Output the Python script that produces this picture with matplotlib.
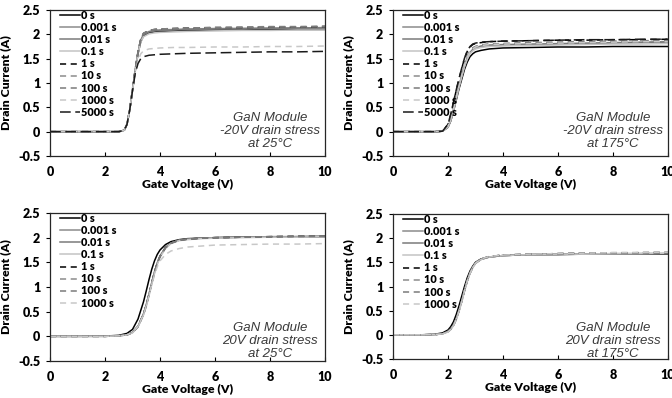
import matplotlib
matplotlib.use('Agg')
import matplotlib.pyplot as plt

# ---- data (gate voltage in V, drain current in A) ----
labels9 = ['0 s', '0.001 s', '0.01 s', '0.1 s', '1 s', '10 s', '100 s', '1000 s', '5000 s']
labels8 = labels9[:8]

# top left: -20V drain stress at 25C
tl_v = [0, 1, 2, 2.5, 2.7, 2.8, 2.9, 3.0, 3.1, 3.2, 3.3, 3.4, 3.6, 3.8, 4.0, 4.5, 5, 6, 7, 8, 9, 10]
tl_0s = [0, 0, 0, 0, 0.03, 0.15, 0.45, 0.85, 1.25, 1.6, 1.85, 1.97, 2.03, 2.05, 2.06, 2.07, 2.08, 2.09, 2.09, 2.1, 2.1, 2.1]
tl_1ms = [0, 0, 0, 0, 0.03, 0.15, 0.45, 0.86, 1.27, 1.62, 1.88, 2.0, 2.06, 2.08, 2.09, 2.1, 2.11, 2.12, 2.12, 2.13, 2.13, 2.14]
tl_10ms = [0, 0, 0, 0, 0.03, 0.15, 0.45, 0.86, 1.27, 1.62, 1.87, 1.99, 2.05, 2.07, 2.08, 2.09, 2.1, 2.11, 2.12, 2.12, 2.13, 2.13]
tl_100ms = [0, 0, 0, 0, 0.03, 0.15, 0.45, 0.85, 1.25, 1.6, 1.84, 1.95, 2.01, 2.03, 2.04, 2.05, 2.06, 2.07, 2.08, 2.08, 2.09, 2.09]
tl_1s = [0, 0, 0, 0, 0.03, 0.15, 0.46, 0.87, 1.28, 1.64, 1.9, 2.02, 2.08, 2.1, 2.11, 2.12, 2.13, 2.14, 2.14, 2.15, 2.15, 2.16]
tl_10s = [0, 0, 0, 0, 0.03, 0.15, 0.46, 0.87, 1.28, 1.64, 1.9, 2.02, 2.08, 2.1, 2.11, 2.12, 2.13, 2.14, 2.15, 2.16, 2.16, 2.17]
tl_100s = [0, 0, 0, 0, 0.03, 0.15, 0.46, 0.87, 1.28, 1.63, 1.89, 2.01, 2.07, 2.09, 2.1, 2.11, 2.12, 2.13, 2.14, 2.15, 2.15, 2.16]
tl_1000s = [0, 0, 0, 0, 0.03, 0.15, 0.45, 0.85, 1.22, 1.45, 1.6, 1.66, 1.7, 1.71, 1.72, 1.73, 1.73, 1.74, 1.74, 1.75, 1.75, 1.76]
tl_5000s = [0, 0, 0, 0, 0.03, 0.15, 0.45, 0.84, 1.2, 1.4, 1.5, 1.54, 1.57, 1.58, 1.59, 1.6, 1.61, 1.62, 1.63, 1.64, 1.64, 1.65]

# top right: -20V drain stress at 175C
tr_v = [0, 1, 1.5, 1.8, 2.0, 2.1, 2.2, 2.3, 2.4, 2.5, 2.6, 2.7, 2.8, 2.9, 3.0, 3.2, 3.5, 4, 5, 6, 7, 8, 9, 10]
tr_0s = [0, 0, 0, 0.01, 0.09, 0.22, 0.42, 0.65, 0.88, 1.08, 1.28, 1.43, 1.54, 1.6, 1.64, 1.67, 1.7, 1.72, 1.73, 1.74, 1.74, 1.75, 1.75, 1.75]
tr_1ms = [0, 0, 0, 0.01, 0.1, 0.24, 0.45, 0.69, 0.93, 1.15, 1.36, 1.52, 1.63, 1.69, 1.73, 1.76, 1.78, 1.79, 1.8, 1.81, 1.82, 1.83, 1.84, 1.85]
tr_10ms = [0, 0, 0, 0.01, 0.1, 0.24, 0.45, 0.69, 0.93, 1.15, 1.35, 1.51, 1.62, 1.68, 1.72, 1.75, 1.77, 1.78, 1.79, 1.8, 1.81, 1.82, 1.83, 1.84]
tr_100ms = [0, 0, 0, 0.01, 0.1, 0.23, 0.44, 0.68, 0.92, 1.13, 1.33, 1.49, 1.6, 1.66, 1.7, 1.73, 1.75, 1.76, 1.77, 1.78, 1.79, 1.8, 1.8, 1.81]
tr_1s = [0, 0, 0, 0.01, 0.15, 0.35, 0.6, 0.85, 1.08, 1.3, 1.5, 1.65, 1.74, 1.79, 1.81, 1.83, 1.85, 1.86, 1.87, 1.88, 1.88, 1.89, 1.89, 1.9]
tr_10s = [0, 0, 0, 0.01, 0.11, 0.26, 0.48, 0.72, 0.96, 1.18, 1.39, 1.55, 1.66, 1.72, 1.75, 1.78, 1.8, 1.81, 1.82, 1.83, 1.84, 1.85, 1.86, 1.86]
tr_100s = [0, 0, 0, 0.01, 0.11, 0.26, 0.48, 0.72, 0.96, 1.18, 1.39, 1.55, 1.66, 1.72, 1.75, 1.78, 1.8, 1.81, 1.83, 1.84, 1.85, 1.86, 1.87, 1.87]
tr_1000s = [0, 0, 0, 0.01, 0.1, 0.25, 0.46, 0.7, 0.94, 1.16, 1.37, 1.53, 1.64, 1.7, 1.74, 1.77, 1.79, 1.8, 1.81, 1.82, 1.83, 1.84, 1.85, 1.85]
tr_5000s = [0, 0, 0, 0.01, 0.15, 0.36, 0.61, 0.86, 1.09, 1.31, 1.51, 1.66, 1.75, 1.8, 1.82, 1.84, 1.85, 1.86, 1.87, 1.88, 1.89, 1.89, 1.9, 1.9]

# bottom left: 20V drain stress at 25C
bl_v = [0, 1, 2, 2.5, 2.8, 3.0, 3.2, 3.4, 3.5, 3.6, 3.7, 3.8, 3.9, 4.0, 4.2, 4.4, 4.7, 5, 5.5, 6, 7, 8, 9, 10]
bl_0s = [0, 0, 0.005, 0.02, 0.06, 0.14, 0.35, 0.7, 0.92, 1.15, 1.36, 1.53, 1.66, 1.75, 1.86, 1.92, 1.96, 1.98, 1.99, 2.0, 2.01, 2.01, 2.02, 2.02]
bl_1ms = [0, 0, 0, 0.01, 0.03, 0.08, 0.2, 0.45, 0.63, 0.85, 1.08, 1.3, 1.48, 1.62, 1.8, 1.89, 1.95, 1.97, 1.99, 2.0, 2.01, 2.02, 2.02, 2.03]
bl_10ms = [0, 0, 0, 0.01, 0.03, 0.08, 0.2, 0.46, 0.64, 0.86, 1.09, 1.31, 1.49, 1.63, 1.8, 1.89, 1.95, 1.97, 1.99, 2.0, 2.01, 2.02, 2.02, 2.03]
bl_100ms = [0, 0, 0, 0.01, 0.03, 0.07, 0.19, 0.43, 0.6, 0.82, 1.05, 1.27, 1.45, 1.6, 1.78, 1.88, 1.94, 1.96, 1.98, 1.99, 2.0, 2.01, 2.01, 2.02]
bl_1s = [0, 0, 0, 0.01, 0.03, 0.08, 0.2, 0.45, 0.63, 0.85, 1.08, 1.3, 1.48, 1.62, 1.8, 1.89, 1.95, 1.97, 1.99, 2.0, 2.01, 2.02, 2.03, 2.03]
bl_10s = [0, 0, 0, 0.01, 0.03, 0.08, 0.2, 0.45, 0.63, 0.85, 1.08, 1.3, 1.48, 1.62, 1.8, 1.89, 1.95, 1.97, 1.99, 2.0, 2.01, 2.02, 2.03, 2.03]
bl_100s = [0, 0, 0, 0.01, 0.03, 0.08, 0.2, 0.45, 0.63, 0.85, 1.08, 1.3, 1.48, 1.62, 1.8, 1.89, 1.95, 1.97, 1.99, 2.0, 2.01, 2.02, 2.02, 2.03]
bl_1000s = [0, 0, 0, 0.01, 0.03, 0.08, 0.2, 0.44, 0.62, 0.83, 1.05, 1.25, 1.41, 1.53, 1.66, 1.73, 1.78, 1.81, 1.83, 1.85, 1.86, 1.87, 1.87, 1.88]

# bottom right: 20V drain stress at 175C
br_v = [0, 1, 1.5, 1.8, 2.0, 2.1, 2.2, 2.3, 2.4, 2.5, 2.6, 2.7, 2.8, 2.9, 3.0, 3.2, 3.5, 4, 5, 6, 7, 8, 9, 10]
br_0s = [0, 0, 0.01, 0.04, 0.1, 0.17, 0.27, 0.42, 0.6, 0.8, 1.0, 1.18, 1.32, 1.42, 1.5, 1.57, 1.61, 1.64, 1.66, 1.66, 1.67, 1.67, 1.67, 1.67]
br_1ms = [0, 0, 0.005, 0.02, 0.07, 0.12, 0.2, 0.33, 0.5, 0.7, 0.92, 1.12, 1.28, 1.4, 1.48, 1.56, 1.61, 1.64, 1.66, 1.67, 1.67, 1.67, 1.68, 1.68]
br_10ms = [0, 0, 0.005, 0.02, 0.07, 0.12, 0.2, 0.33, 0.5, 0.7, 0.92, 1.12, 1.28, 1.4, 1.48, 1.56, 1.61, 1.64, 1.66, 1.67, 1.67, 1.68, 1.68, 1.68]
br_100ms = [0, 0, 0.005, 0.02, 0.06, 0.11, 0.19, 0.31, 0.48, 0.68, 0.9, 1.1, 1.27, 1.39, 1.48, 1.56, 1.61, 1.64, 1.66, 1.67, 1.67, 1.68, 1.68, 1.69]
br_1s = [0, 0, 0.005, 0.02, 0.07, 0.12, 0.2, 0.33, 0.5, 0.7, 0.92, 1.12, 1.28, 1.4, 1.49, 1.57, 1.62, 1.65, 1.67, 1.68, 1.69, 1.69, 1.7, 1.7]
br_10s = [0, 0, 0.005, 0.02, 0.07, 0.12, 0.2, 0.33, 0.5, 0.7, 0.92, 1.12, 1.28, 1.4, 1.49, 1.57, 1.62, 1.65, 1.67, 1.68, 1.69, 1.69, 1.7, 1.7]
br_100s = [0, 0, 0.005, 0.02, 0.07, 0.12, 0.2, 0.33, 0.5, 0.7, 0.92, 1.12, 1.28, 1.4, 1.49, 1.57, 1.62, 1.65, 1.67, 1.68, 1.69, 1.7, 1.7, 1.71]
br_1000s = [0, 0, 0.005, 0.02, 0.06, 0.11, 0.19, 0.32, 0.49, 0.69, 0.91, 1.11, 1.27, 1.39, 1.48, 1.57, 1.62, 1.65, 1.67, 1.68, 1.69, 1.7, 1.7, 1.71]

x_ticks = [0, 2, 4, 6, 8, 10]
y_ticks = [-0.5, 0, 0.5, 1, 1.5, 2, 2.5]
y_tick_labels = ['-0.5', '0', '0.5', '1', '1.5', '2', '2.5']

# line styles for each stress time (same order as labels9)
styles = [
    dict(color='#000000', ls='-'),
    dict(color='#8c8c8c', ls='-'),
    dict(color='#7a7a7a', ls='-'),
    dict(color='#c4c4c4', ls='-'),
    dict(color='#000000', ls=(0, (4, 3))),
    dict(color='#8c8c8c', ls=(0, (4, 3))),
    dict(color='#7a7a7a', ls=(0, (4, 3))),
    dict(color='#c8c8c8', ls=(0, (4, 3))),
    dict(color='#1a1a1a', ls=(0, (7, 3))),
]

panels = [
    (tl_v, [tl_0s, tl_1ms, tl_10ms, tl_100ms, tl_1s, tl_10s, tl_100s, tl_1000s, tl_5000s], labels9,
     'GaN Module\n-20V drain stress\nat 25\u00b0C', 0.02, (50, 10, 275, 146)),
    (tr_v, [tr_0s, tr_1ms, tr_10ms, tr_100ms, tr_1s, tr_10s, tr_100s, tr_1000s, tr_5000s], labels9,
     'GaN Module\n-20V drain stress\nat 175\u00b0C', 0.02, (393, 10, 275, 146)),
    (bl_v, [bl_0s, bl_1ms, bl_10ms, bl_100ms, bl_1s, bl_10s, bl_100s, bl_1000s], labels8,
     'GaN Module\n20V drain stress\nat 25\u00b0C', -0.1, (50, 213, 275, 148)),
    (br_v, [br_0s, br_1ms, br_10ms, br_100ms, br_1s, br_10s, br_100s, br_1000s], labels8,
     'GaN Module\n20V drain stress\nat 175\u00b0C', -0.12, (393, 214, 275, 145)),
]

W, H = 672, 398
fig = plt.figure(figsize=(W / 100, H / 100), dpi=100)
fig.patch.set_facecolor('white')

fam = ['Lato', 'DejaVu Sans']

for v, series, labels, note, note_y, (px, py, pw, ph) in panels:
    ax = fig.add_axes([px / W, 1 - (py + ph) / H, pw / W, ph / H])
    for vals, lab, st in zip(series, labels, styles):
        ax.plot(v, vals, color=st['color'], linestyle=st['ls'], linewidth=1.1, label=lab)

    ax.set_xlim(0, 10)
    ax.set_ylim(-0.5, 2.5)
    ax.set_xticks(x_ticks)
    ax.set_yticks(y_ticks)
    ax.set_yticklabels(y_tick_labels)
    ax.tick_params(axis='x', direction='in', length=3, width=0.8, pad=7.5, top=False)
    ax.tick_params(axis='y', direction='out', length=3, width=0.8, pad=4, right=False)
    for t in ax.get_xticklabels() + ax.get_yticklabels():
        t.set_fontfamily(fam)
        t.set_fontweight('heavy')
        t.set_fontsize(9)

    ax.set_xlabel('Gate Voltage (V)', fontsize=8.8, labelpad=0.5, family=fam, weight='heavy')
    ax.set_ylabel('Drain Current (A)', fontsize=8.8, labelpad=5, family=fam, weight='heavy')

    for spine in ax.spines.values():
        spine.set_color('#262626')
        spine.set_linewidth(0.9)

    ax.legend(loc='upper left', bbox_to_anchor=(10 / pw, 1.0), frameon=False,
              borderpad=0, borderaxespad=0, handlelength=1.85, handletextpad=0.05,
              labelspacing=0.1, prop=dict(family=fam, weight='heavy', size=7.8))

    ax.text(8.0, note_y, note, ha='center', va='center', fontsize=9.5, style='italic',
            family=['Liberation Sans', 'DejaVu Sans'], color='#3a3a3a', linespacing=1.1)

plt.savefig('out.png', dpi=100, facecolor='white')
plt.close(fig)
